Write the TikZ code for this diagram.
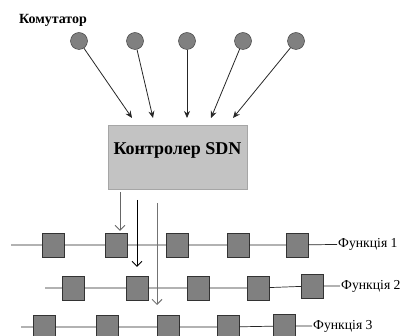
\documentclass[tikz,border=0pt]{standalone}
\usepackage{fontspec}
\setmainfont{Liberation Serif}
\usetikzlibrary{arrows.meta}
\definecolor{boxgray}{HTML}{C3C3C3}
\definecolor{elgray}{HTML}{808080}

\begin{document}
\begin{tikzpicture}[x=1pt, y=-1pt,
      switch/.style={circle, draw=black!80, fill=elgray, minimum size=17pt,
      inner sep=0pt}, fnbox/.style={rectangle, draw=black!80, fill=elgray,
      minimum width=22pt, minimum height=24pt, inner sep=0pt},
      ctrl/.style={rectangle, draw=black!35, fill=boxgray, minimum width=139pt,
      minimum height=64pt, text height=12pt, text depth=16pt,
      font=\bfseries\fontsize{18}{20}\selectfont},
      link/.style={-{Stealth[length=7pt,width=6pt]}, black!85, line width=0.8pt},
      push/.style={-{Straight Barb[length=5pt,width=10pt]}, line width=1pt},
      bus/.style={black!85, line width=0.7pt},
      fnlabel/.style={anchor=west, inner sep=1pt, font=\fontsize{13.7}{16}\selectfont} ]
          \useasboundingbox (0,0) rectangle (407,336);
          \node[font=\bfseries\fontsize{14}{16}\selectfont] (title) at (53,20) {Комутатор};
          % switches
          \node[switch] (s1) at (79,41) {};
          \node[switch] (s2) at (135,41) {};
          \node[switch] (s3) at (187,41) {};
          \node[switch] (s4) at (243,41) {};
          \node[switch] (s5) at (296,41) {};
          \node[ctrl] (sdn) at (177.5,157) {Контролер SDN};
          \coordinate (t1) at (132,118);
          \coordinate (t2) at (153,118);
          \coordinate (t3) at (187,118);
          \coordinate (t4) at (211,118);
          \coordinate (t5) at (233,118);
          \draw[link] (s1) -- (t1);
          \draw[link] (s2) -- (t2);
          \draw[link] (s3) -- (t3);
          \draw[link] (s4) -- (t4);
          \draw[link] (s5) -- (t5);
          % function 1
          \coordinate (l1) at (11,245);
          \node[fnbox] (f11) at (53,245) {};
          \node[fnbox] (f12) at (116,245) {};
          \node[fnbox] (f13) at (177,245) {};
          \node[fnbox] (f14) at (238,245) {};
          \node[fnbox] (f15) at (297,245) {};
          \node[fnlabel] (n1) at (337,244) {Функція 1};
          \draw[bus] (l1) -- (f11) -- (f12) -- (f13) -- (f14) -- (f15) -- (n1);
          % function 2
          \coordinate (l2) at (45,288);
          \node[fnbox] (f21) at (73,288) {};
          \node[fnbox] (f22) at (137,288) {};
          \node[fnbox] (f23) at (198,288) {};
          \node[fnbox] (f24) at (258,288) {};
          \node[fnbox] (f25) at (312,286) {};
          \node[fnlabel] (n2) at (340,286) {Функція 2};
          \draw[bus] (l2) -- (f21) -- (f22) -- (f23) -- (f24) -- (f25) -- (n2);
          % function 3
          \coordinate (l3) at (21,327);
          \node[fnbox] (f31) at (44,327) {};
          \node[fnbox] (f32) at (107,327) {};
          \node[fnbox] (f33) at (168,327) {};
          \node[fnbox] (f34) at (228,327) {};
          \node[fnbox] (f35) at (284,326) {};
          \node[fnlabel] (n3) at (312,326) {Функція 3};
          \draw[bus] (l3) -- (f31) -- (f32) -- (f33) -- (f34) -- (f35) -- (n3);
          % rules pushed down
          \coordinate (d1) at (120,192);
          \coordinate (e1) at (120,231);
          \coordinate (d2) at (137,200);
          \coordinate (e2) at (137,267);
          \coordinate (d3) at (157,203);
          \coordinate (e3) at (157,305);
          \draw[push, black!60] (d1) -- (e1);
          \draw[push, black] (d2) -- (e2);
          \draw[push, black!55] (d3) -- (e3);
        \end{tikzpicture}
\end{document}
